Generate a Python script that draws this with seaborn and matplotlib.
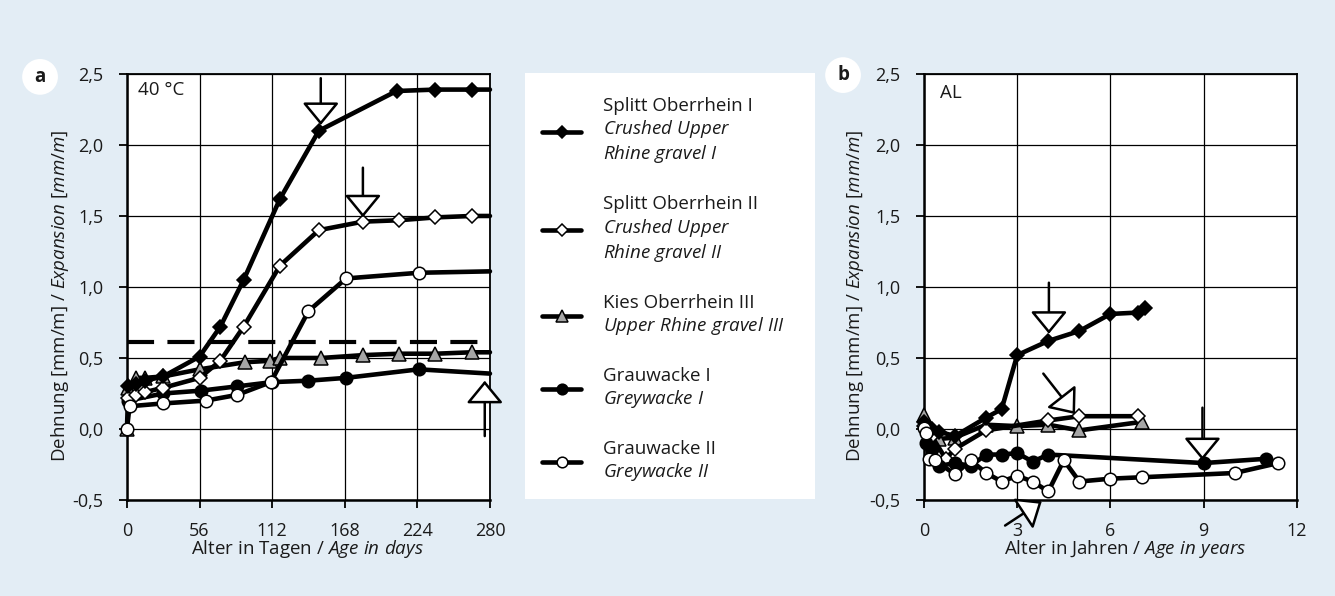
import matplotlib
matplotlib.use("Agg")
import matplotlib.pyplot as plt
import seaborn as sns
from matplotlib.ticker import FuncFormatter, FixedLocator

sns.set_theme(style="white")
plt.rcParams["font.family"] = ["Open Sans", "DejaVu Sans"]
plt.rcParams["mathtext.fontset"] = "custom"
plt.rcParams["mathtext.rm"] = "Open Sans"
plt.rcParams["mathtext.it"] = "Open Sans:italic"

# ---- panel a: 40 °C test, age in days ----
a_s1_x = [1, 7, 14, 28, 56, 72, 90, 118, 148, 208, 238, 266, 280]
a_s1_y = [0.30, 0.32, 0.34, 0.37, 0.51, 0.72, 1.05, 1.62, 2.10, 2.38, 2.39, 2.39, 2.39]
a_s2_x = [1, 7, 14, 28, 56, 72, 90, 118, 148, 182, 210, 238, 266, 280]
a_s2_y = [0.22, 0.24, 0.26, 0.29, 0.36, 0.48, 0.72, 1.15, 1.40, 1.46, 1.47, 1.49, 1.50, 1.50]
a_k3_x = [0, 1, 7, 14, 28, 56, 91, 110, 118, 150, 182, 210, 238, 266, 280]
a_k3_y = [0.0, 0.29, 0.36, 0.36, 0.37, 0.42, 0.47, 0.48, 0.50, 0.50, 0.52, 0.53, 0.53, 0.54, 0.54]
a_g1_x = [1, 28, 57, 85, 112, 140, 169, 225, 280]
a_g1_y = [0.20, 0.25, 0.27, 0.30, 0.33, 0.34, 0.36, 0.42, 0.39]
a_g2_x = [0, 2, 28, 61, 85, 111, 140, 169, 225, 280]
a_g2_y = [0.0, 0.16, 0.18, 0.20, 0.24, 0.33, 0.83, 1.06, 1.10, 1.11]
a_limit = 0.61
a_xticks = [0, 56, 112, 168, 224, 280]

# ---- panel b: outdoor storage, age in years ----
b_s1_x = [0, 0.25, 0.5, 1, 2, 2.5, 3, 4, 5, 6, 6.9, 7.1]
b_s1_y = [0.05, 0.0, -0.02, -0.05, 0.08, 0.14, 0.52, 0.62, 0.69, 0.81, 0.82, 0.85]
b_s2_x = [0, 0.25, 0.7, 1, 2, 4, 5, 6.9]
b_s2_y = [0.02, -0.05, -0.21, -0.14, -0.01, 0.06, 0.09, 0.09]
b_k3_x = [0, 0.25, 0.5, 1, 2, 3, 4, 5, 7]
b_k3_y = [0.10, -0.02, -0.07, -0.06, 0.03, 0.02, 0.03, -0.01, 0.05]
b_g1_x = [0.05, 0.25, 0.5, 1, 1.5, 2, 2.5, 3, 3.5, 4, 9, 11]
b_g1_y = [-0.10, -0.14, -0.26, -0.24, -0.26, -0.18, -0.18, -0.17, -0.23, -0.18, -0.24, -0.21]
b_g2_x = [0, 0.05, 0.15, 0.35, 1, 1.5, 2, 2.5, 3, 3.5, 4, 4.5, 5, 6, 7, 10, 11.4]
b_g2_y = [0.01, -0.03, -0.21, -0.22, -0.32, -0.22, -0.31, -0.37, -0.33, -0.37, -0.44,
          -0.22, -0.37, -0.35, -0.34, -0.31, -0.24]
b_xticks = [0, 3, 6, 9, 12]

y_ticks = [-0.5, 0.0, 0.5, 1.0, 1.5, 2.0, 2.5]

labels = [
    "Splitt Oberrhein I\n$\\mathit{Crushed\\ Upper}$\n$\\mathit{Rhine\\ gravel\\ I}$",
    "Splitt Oberrhein II\n$\\mathit{Crushed\\ Upper}$\n$\\mathit{Rhine\\ gravel\\ II}$",
    "Kies Oberrhein III\n$\\mathit{Upper\\ Rhine\\ gravel\\ III}$",
    "Grauwacke I\n$\\mathit{Greywacke\\ I}$",
    "Grauwacke II\n$\\mathit{Greywacke\\ II}$",
]

styles = [
    dict(marker="D", markersize=7, markerfacecolor="black"),
    dict(marker="D", markersize=7, markerfacecolor="white"),
    dict(marker="^", markersize=10.5, markerfacecolor="#a6a6a6"),
    dict(marker="o", markersize=9, markerfacecolor="black"),
    dict(marker="o", markersize=9, markerfacecolor="white"),
]

BG = "#e3edf5"
TXT = "#1a1a1a"
FS = 13.5
fig = plt.figure(figsize=(13.35, 5.96), dpi=100, facecolor=BG)

ax_a = fig.add_axes([0.0951, 0.1611, 0.2719, 0.7148])
ax_leg = fig.add_axes([0.3933, 0.1628, 0.2172, 0.7148])
ax_b = fig.add_axes([0.6921, 0.1611, 0.2794, 0.7148])


def comma(v, _pos):
    return f"{v:.1f}".replace(".", ",")


def draw_series(ax, xs, ys, style, label, skip_last=False):
    marks = list(range(len(xs) - 1)) if skip_last else None
    sns.lineplot(x=xs, y=ys, ax=ax, color="black", lw=3.3, sort=False,
                 estimator=None, errorbar=None, markeredgecolor="black",
                 markeredgewidth=1.1, markevery=marks, clip_on=False,
                 label=label, zorder=3, **style)


def hollow_arrow(ax, tail, tip):
    ax.annotate("", xy=tip, xytext=tail, xycoords="data", textcoords="data",
                annotation_clip=False, zorder=6,
                arrowprops=dict(arrowstyle="-|>,head_length=14,head_width=11.5",
                                mutation_scale=1, fc="white", ec="black",
                                lw=1.8, shrinkA=0, shrinkB=0))


def style_axes(ax, xlim, xticks, xlabel, xlabel_x):
    ax.set_facecolor("white")
    ax.set_xlim(*xlim)
    ax.set_ylim(-0.5, 2.5)
    ax.xaxis.set_major_locator(FixedLocator(xticks))
    ax.yaxis.set_major_locator(FixedLocator(y_ticks))
    ax.yaxis.set_major_formatter(FuncFormatter(comma))
    ax.grid(True, color="black", lw=0.9)
    ax.set_axisbelow(True)
    for sp in ax.spines.values():
        sp.set_visible(True)
        sp.set_color("black")
        sp.set_linewidth(1.3)
    ax.spines["left"].set_linewidth(1.8)
    ax.spines["bottom"].set_linewidth(1.8)
    ax.tick_params(axis="both", which="both", bottom=True, left=True,
                   direction="out", colors="black", width=1.3, labelsize=13,
                   labelcolor=TXT)
    ax.tick_params(axis="y", length=6, pad=11)
    ax.tick_params(axis="x", length=6, pad=10)
    ax.set_xlabel(xlabel, fontsize=FS, color=TXT)
    ax.set_ylabel("Dehnung [mm/m] / $\\mathit{Expansion\\ [mm/m]}$",
                  fontsize=FS, color=TXT)
    ax.xaxis.set_label_coords(xlabel_x, -0.09)
    ax.yaxis.set_label_coords(-0.155, 0.48)
    if ax.get_legend() is not None:
        ax.get_legend().remove()


# panel a
a_series = [(a_k3_x, a_k3_y, 2), (a_g1_x, a_g1_y, 3), (a_s2_x, a_s2_y, 1),
            (a_s1_x, a_s1_y, 0), (a_g2_x, a_g2_y, 4)]
for xs, ys, i in a_series:
    draw_series(ax_a, xs, ys, styles[i], labels[i], skip_last=True)
ax_a.axhline(a_limit, color="black", lw=3, dashes=(6.5, 3.2), zorder=2)
style_axes(ax_a, (0, 280), a_xticks, "Alter in Tagen / $\\mathit{Age\\ in\\ days}$", 0.497)
ax_a.text(0.03, 0.962, "40 °C", transform=ax_a.transAxes, fontsize=FS,
          va="center", ha="left", color=TXT)
hollow_arrow(ax_a, (149.5, 2.47), (149.5, 2.14))
hollow_arrow(ax_a, (182, 1.84), (182, 1.49))
hollow_arrow(ax_a, (276, -0.05), (276, 0.34))

# panel b
b_series = [(b_k3_x, b_k3_y, 2), (b_s2_x, b_s2_y, 1), (b_s1_x, b_s1_y, 0),
            (b_g1_x, b_g1_y, 3), (b_g2_x, b_g2_y, 4)]
for xs, ys, i in b_series:
    draw_series(ax_b, xs, ys, styles[i], labels[i])
style_axes(ax_b, (0, 12), b_xticks, "Alter in Jahren / $\\mathit{Age\\ in\\ years}$", 0.539)
ax_b.text(0.043, 0.955, "AL", transform=ax_b.transAxes, fontsize=FS,
          va="center", ha="left", color=TXT)
hollow_arrow(ax_b, (4.02, 1.03), (4.02, 0.67))
hollow_arrow(ax_b, (3.84, 0.39), (4.86, 0.105))
hollow_arrow(ax_b, (8.96, 0.15), (8.96, -0.22))
hollow_arrow(ax_b, (2.61, -0.68), (3.79, -0.51))

# legend panel
ax_leg.set_facecolor("white")
ax_leg.set_xticks([])
ax_leg.set_yticks([])
for sp in ax_leg.spines.values():
    sp.set_visible(False)
handle_map = {ln.get_label(): ln for ln in ax_a.get_lines()}
handles = [handle_map[lb] for lb in labels]
leg = ax_leg.legend(handles, labels, loc="center left", bbox_to_anchor=(0.06, 0.49),
                    frameon=False, fontsize=FS, handlelength=2.05,
                    handletextpad=1.2, labelspacing=1.6, borderpad=0,
                    borderaxespad=0, markerscale=0.85)
for t in leg.get_texts():
    t.set_linespacing(1.2)
    t.set_color(TXT)

# panel letters
for x, y, letter in [(0.030, 0.871, "a"), (0.6315, 0.874, "b")]:
    fig.text(x, y, letter, fontsize=13.5, fontweight="bold", ha="center", va="center",
             color=TXT,
             bbox=dict(boxstyle="circle,pad=0.42", fc="white", ec="none"))

fig.savefig("out.png", dpi=100, facecolor=BG)
